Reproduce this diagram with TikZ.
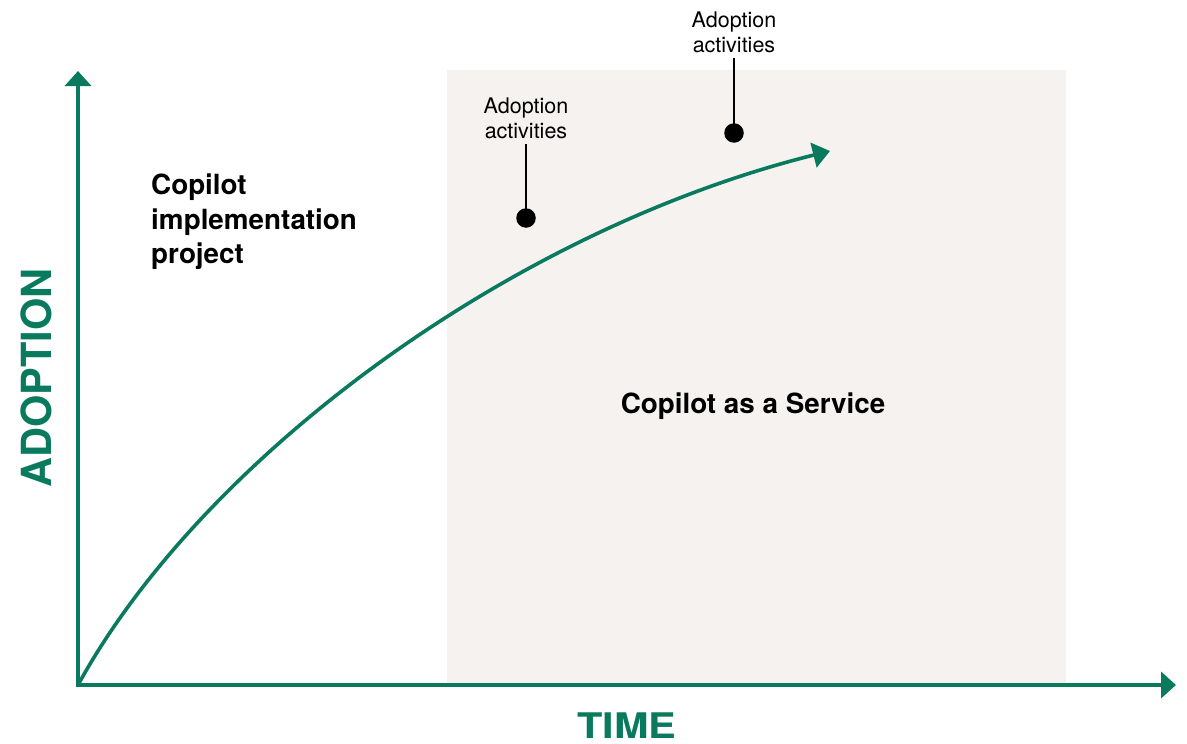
\documentclass[tikz,border=0pt]{standalone}
\usepackage{fontspec}
\setmainfont{TeX Gyre Heros}
\usetikzlibrary{arrows.meta}
\definecolor{grn}{RGB}{10,122,94}
\definecolor{bgr}{RGB}{245,242,239}
\begin{document}
\begin{tikzpicture}[x=1pt,y=-1pt,
  axis/.style={draw=grn, line width=4pt},
  curve/.style={draw=grn, line width=3.6pt},
  dot/.style={circle, fill=black, minimum size=19.5pt, inner sep=0pt},
  lab/.style={align=center, font=\fontsize{21.5}{25}\selectfont, inner xsep=0pt, inner ysep=5pt, anchor=south},
  leader/.style={draw=black, line width=1.3pt},
  bigtext/.style={font=\bfseries\fontsize{27.8}{34.5}\selectfont, inner sep=0pt},
  axtitle/.style={text=grn, font=\bfseries\fontsize{41.5}{41.5}\selectfont, inner sep=0pt}]
\useasboundingbox (0,0) rectangle (1187,744);
\fill[bgr] (447,70) rectangle (1066,685);
% axes
\coordinate (o) at (78,685);
\coordinate (ytop) at (78,71);
\coordinate (xend) at (1176,685);
\draw[axis, {Triangle[length=15pt,width=26pt]}-{Triangle[length=15pt,width=26pt]}] (ytop) -- (o) -- (xend);
% curve
\coordinate (ctip) at (830,151);
\draw[curve, -{Triangle[length=17pt,width=25pt]}] (o) .. controls (200,462) and (505,232) .. (ctip);
% dots and labels
\node[dot] (d1) at (526,218) {};
\node[lab] (l1) at (526,144) {Adoption\\activities};
\draw[leader] (l1.south) -- (d1.center);
\node[dot] (d2) at (734,133) {};
\node[lab] (l2) at (734,58) {Adoption\\activities};
\draw[leader] (l2.south) -- (d2.center);
% texts
\node[bigtext, align=left, anchor=north west] (impl) at (151,174) {Copilot\\implementation\\project};
\node[bigtext, anchor=base] (caas) at (753,413) {Copilot as a Service};
\node[axtitle, rotate=90] (ylab) at (36,378) {ADOPTION};
\node[axtitle, anchor=base] (xlab) at (627,738) {\scalebox{1}[0.85]{TIME}};
\end{tikzpicture}
\end{document}
